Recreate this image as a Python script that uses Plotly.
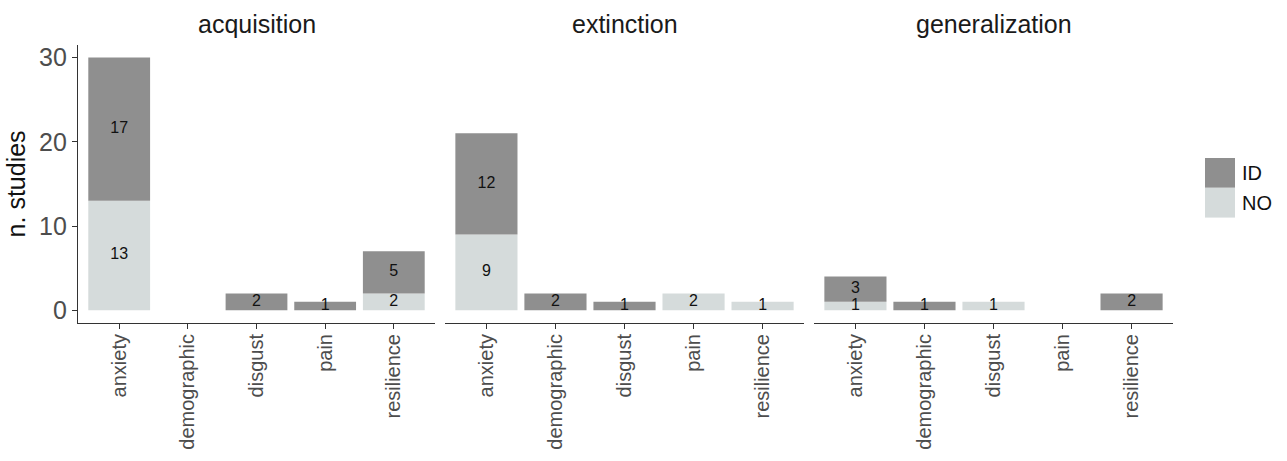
import plotly.graph_objects as go

phases = ["acquisition", "extinction", "generalization"]
categories = ["anxiety", "demographic", "disgust", "pain", "resilience"]
# values per phase, in category order
no_values = {
    "acquisition":    [13, 0, 0, 0, 2],
    "extinction":     [9, 0, 0, 2, 1],
    "generalization": [1, 0, 1, 0, 0],
}
id_values = {
    "acquisition":    [17, 0, 2, 1, 5],
    "extinction":     [12, 2, 1, 0, 0],
    "generalization": [3, 1, 0, 0, 2],
}
y_ticks = [0, 10, 20, 30]

COL_ID = "#8F8F8F"
COL_NO = "#D5DBDB"
FONT = "Liberation Sans, Arial, sans-serif"

W, H = 1287, 461
def px_x(p):
    return p / W
def px_y(p):
    return 1 - p / H

domains = [(78, 435), (445, 804), (814, 1173)]
ydom = [px_y(323), px_y(43.2)]

fig = go.Figure()
for i, ph in enumerate(phases):
    xa = "x" if i == 0 else f"x{i+1}"
    ya = "y" if i == 0 else f"y{i+1}"
    nos = no_values[ph]
    ids = id_values[ph]
    fig.add_trace(go.Bar(x=categories, y=nos, marker=dict(color=COL_NO, line=dict(width=0)),
                         width=0.9, xaxis=xa, yaxis=ya, showlegend=False, name="NO"))
    fig.add_trace(go.Bar(x=categories, y=ids, base=nos, marker=dict(color=COL_ID, line=dict(width=0)),
                         width=0.9, xaxis=xa, yaxis=ya, showlegend=False, name="ID"))
    # labels at segment midpoints
    tx, ty, tt = [], [], []
    for c, n, d in zip(categories, nos, ids):
        if n > 0:
            tx.append(c); ty.append(n / 2); tt.append(str(n))
        if d > 0:
            tx.append(c); ty.append(n + d / 2); tt.append(str(d))
    fig.add_trace(go.Scatter(x=tx, y=ty, text=tt, mode="text", textposition="middle center",
                             textfont=dict(family=FONT, size=16, color="#111111"),
                             xaxis=xa, yaxis=ya, showlegend=False, hoverinfo="skip"))

    d0, d1 = domains[i]
    xkey = "xaxis" if i == 0 else f"xaxis{i+1}"
    ykey = "yaxis" if i == 0 else f"yaxis{i+1}"
    fig.layout[xkey] = dict(
        domain=[px_x(d0), px_x(d1)], anchor=ya,
        categoryorder="array", categoryarray=categories,
        range=[-0.6, 4.6], showgrid=False, zeroline=False,
        showline=True, linecolor="#333333", linewidth=1.3,
        ticks="outside", ticklen=5, tickcolor="#333333", tickwidth=1.3,
        ticklabelstandoff=-3,
        tickangle=-90, tickfont=dict(family=FONT, size=20, color="#4D4D4D"),
    )
    fig.layout[ykey] = dict(
        domain=ydom, anchor=xa, range=[-1.5, 31.5],
        tickvals=y_ticks, showgrid=False, zeroline=False,
        showline=(i == 0), linecolor="#333333", linewidth=1.3,
        ticks="outside" if i == 0 else "", ticklen=5, tickcolor="#333333", tickwidth=1.3,
        showticklabels=(i == 0),
        tickfont=dict(family=FONT, size=25, color="#4D4D4D"),
        title=dict(text="n. studies", font=dict(family=FONT, size=25, color="#111111"), standoff=6) if i == 0 else None,
    )
    fig.add_annotation(x=px_x((d0 + d1) / 2), y=px_y(22), xref="paper", yref="paper",
                       text=ph, showarrow=False, xanchor="center", yanchor="middle",
                       font=dict(family=FONT, size=25, color="#1A1A1A"))

# legend (manual keys)
for j, (lab, col) in enumerate([("ID", COL_ID), ("NO", COL_NO)]):
    top = 157 + j * 30
    fig.add_shape(type="rect", xref="paper", yref="paper",
                  x0=px_x(1205), x1=px_x(1235), y0=px_y(top + 30), y1=px_y(top),
                  fillcolor=col, line=dict(width=0))
    fig.add_annotation(x=px_x(1241), y=px_y(top + 15), xref="paper", yref="paper",
                       text=lab, showarrow=False, xanchor="left", yanchor="middle",
                       borderpad=0, font=dict(family=FONT, size=20, color="#111111"))

fig.update_layout(
    width=W, height=H, barmode="overlay", bargap=0.1,
    margin=dict(l=0, r=0, t=0, b=0),
    plot_bgcolor="white", paper_bgcolor="white",
    font=dict(family=FONT),
)
fig.write_html("out.html", config={"displayModeBar": False},
               post_script="document.body.style.margin='0';document.body.style.overflow='hidden';")
